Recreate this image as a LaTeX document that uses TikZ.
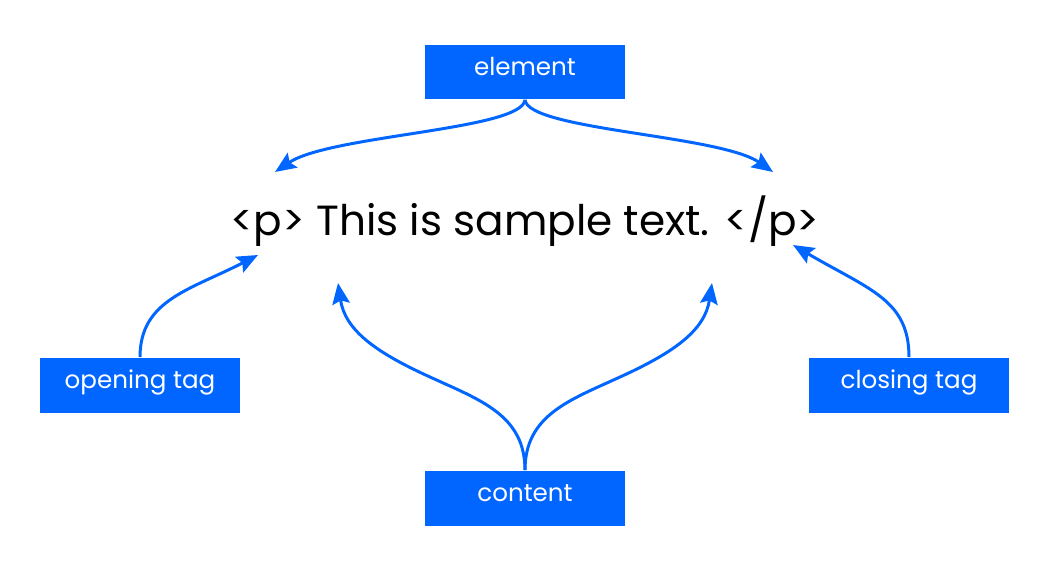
\documentclass[tikz,border=0pt]{standalone}
\usepackage{fontspec}
\setmainfont{Poppins}
\usepackage{tikz}
\usetikzlibrary{arrows.meta, positioning}
\definecolor{cBlue}{RGB}{0,102,255}
\tikzset{
  tagbox/.style={rectangle, fill=cBlue, text=white, minimum width=4cm,
                 minimum height=1.1cm, inner sep=0pt, text height=1.5ex,
                 text depth=0.7ex, font=\fontsize{14}{16}\selectfont},
  codetext/.style={anchor=base, font=\fontsize{24}{28}\selectfont},
  bluearrow/.style={-{Stealth[length=12pt, width=10pt, inset=2pt]},
                    line width=1.7pt, color=cBlue}
}

\begin{document}
\begin{tikzpicture}[x=0.02cm, y=-0.02cm]
  \useasboundingbox (0,0) rectangle (1055,572);

  \node[codetext] (txt) at (525,235) {<p> This is sample text. </p>};
  \node[tagbox] (elem) at (525,72) {element};
  \node[tagbox] (open) at (140,385) {opening tag};
  \node[tagbox] (close) at (909,385) {closing tag};
  \node[tagbox] (cont) at (525,498) {content};

  % arrow ends around the text
  \coordinate (elemL) at (275,172);
  \coordinate (elemR) at (773,172);
  \coordinate (openT) at (258,255);
  \coordinate (closeT) at (793,245);
  \coordinate (contL) at (338,283);
  \coordinate (contR) at (712,283);

  \draw[bluearrow] (elem.south) .. controls (522,130) and (330,135) .. (elemL);
  \draw[bluearrow] (elem.south) .. controls (528,130) and (720,135) .. (elemR);
  \draw[bluearrow] (open.north) .. controls (140,300) and (190,290) .. (openT);
  \draw[bluearrow] (close.north) .. controls (909,300) and (870,290) .. (closeT);
  \draw[bluearrow] (cont.north) .. controls (525,415) and (480,400) .. (430,377)
                   .. controls (375,352) and (345,330) .. (contL);
  \draw[bluearrow] (cont.north) .. controls (525,415) and (570,400) .. (620,377)
                   .. controls (675,352) and (705,330) .. (contR);
\end{tikzpicture}
\end{document}
